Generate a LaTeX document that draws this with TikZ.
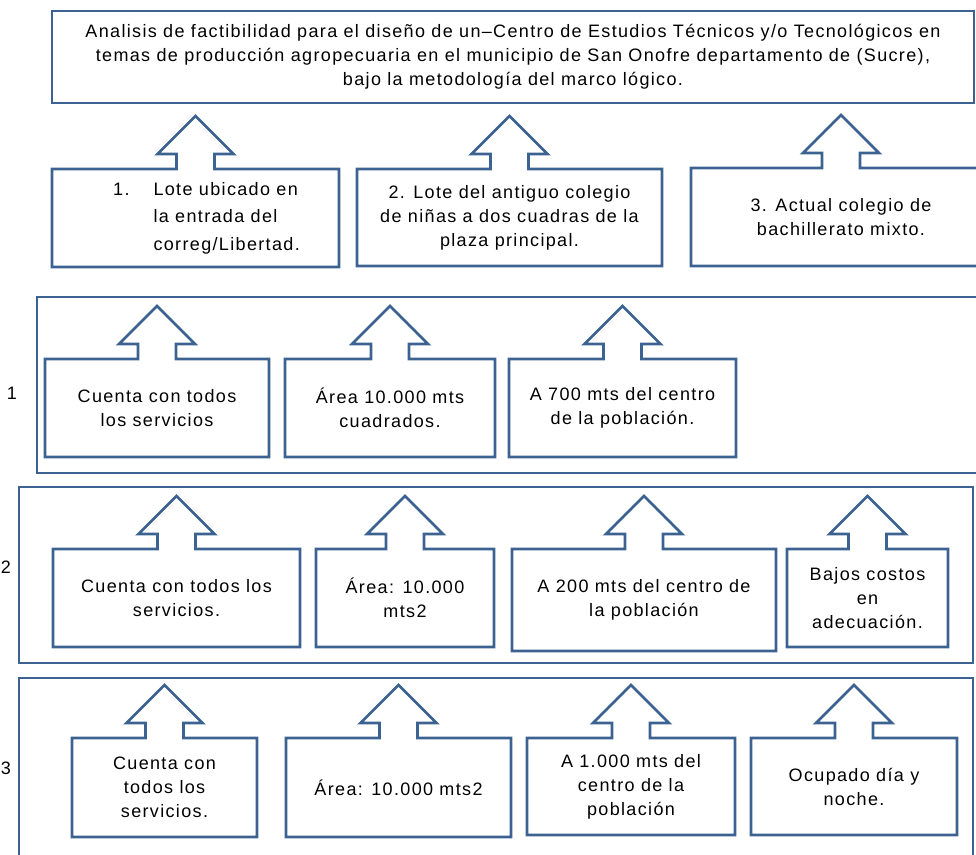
\documentclass[tikz,border=0pt]{standalone}
\usepackage{fontspec}
\setmainfont{Liberation Sans}[LetterSpace=7.5]
\usetikzlibrary{calc}
\definecolor{boxblue}{RGB}{60,98,145}

% box with an up arrow on its top edge
\newcommand{\upcallout}[1]{%
  \draw[arrowbox] (#1.north west) -- ($(#1.north)+(-19,0)$) -- ++(0,-15) -- ++(-19,0)
    -- ($(#1.north)+(0,-53)$) -- ($(#1.north)+(38,-15)$) -- ++(-19,0) -- ++(0,15)
    -- (#1.north east) -- (#1.south east) -- (#1.south west) -- cycle;}

\begin{document}
\begin{tikzpicture}[x=0.75pt, y=-0.75pt,
    box/.style={rectangle, inner sep=2pt, outer sep=0pt, align=center, font=\fontsize{13.5}{18}\selectfont},
    arrowbox/.style={draw=boxblue, line width=2.1pt},
    panel/.style={rectangle, draw=boxblue, line width=2.1pt, inner sep=0pt, outer sep=0pt},
    tag/.style={font=\fontsize{13.5}{18}\selectfont}]
        \useasboundingbox (0,0) rectangle (976,855);
        \clip (0,0) rectangle (976,855);

        \node[box, draw=boxblue, line width=2.1pt, minimum width=922*0.75pt, minimum height=92*0.75pt] (goal) at (513,57) {Analisis de factibilidad para el diseño de un–Centro de Estudios Técnicos y/o Tecnológicos en\\ temas de producción agropecuaria en el municipio de San Onofre departamento de (Sucre),\\ bajo la metodología del marco lógico.};

        \node[box, minimum width=287*0.75pt, minimum height=98*0.75pt] (lot1) at (195.5,218) {\hspace{16.5pt}\begin{tabular}{@{}l@{\hspace{18pt}}l@{}}1. & Lote ubicado en\\[2.5pt] & la entrada del\\[2.5pt] & correg/Libertad.\end{tabular}};
        \node[box, minimum width=305*0.75pt, minimum height=97*0.75pt] (lot2) at (509.5,217.5) {2. Lote del antiguo colegio\\ de niñas a dos cuadras de la\\ plaza principal.};
        \node[box, minimum width=300*0.75pt, minimum height=98*0.75pt] (lot3) at (841,217) {3. Actual colegio de\\ bachillerato mixto.};

        \node[panel, minimum width=963*0.75pt, minimum height=176*0.75pt] (panel1) at (518.5,385) {};
        \node[panel, minimum width=954*0.75pt, minimum height=176*0.75pt] (panel2) at (496,575) {};
        \node[panel, minimum width=954*0.75pt, minimum height=222*0.75pt] (panel3) at (496,789) {};

        \node[tag] (n1) at (12,393) {1};
        \node[tag] (n2) at (6,567) {2};
        \node[tag] (n3) at (6,768) {3};

        \node[box, minimum width=224*0.75pt, minimum height=98*0.75pt] (a1) at (157,408) {Cuenta con todos\\ los servicios};
        \node[box, minimum width=210*0.75pt, minimum height=98*0.75pt] (b1) at (390,408) {Área 10.000 mts\\ cuadrados.};
        \node[box, minimum width=227*0.75pt, minimum height=98*0.75pt] (c1) at (622.5,408) {A 700 mts del centro\\ de la población.};

        \node[box, minimum width=247*0.75pt, minimum height=98*0.75pt] (a2) at (176.5,598) {Cuenta con todos los\\ servicios.};
        \node[box, minimum width=178*0.75pt, minimum height=98*0.75pt] (b2) at (405,598) {Área: 10.000\\ mts2};
        \node[box, minimum width=264*0.75pt, minimum height=102*0.75pt] (c2) at (644,600) {A 200 mts del centro de\\ la población};
        \node[box, minimum width=161*0.75pt, minimum height=98*0.75pt] (d2) at (867.5,598) {Bajos costos\\ en\\ adecuación.};

        \node[box, minimum width=185*0.75pt, minimum height=99*0.75pt] (a3) at (164.5,787.5) {Cuenta con\\ todos los\\ servicios.};
        \node[box, minimum width=225*0.75pt, minimum height=99*0.75pt] (b3) at (398.5,787.5) {Área: 10.000 mts2};
        \node[box, minimum width=208*0.75pt, minimum height=97*0.75pt] (c3) at (631,786.5) {A 1.000 mts del\\ centro de la\\ población};
        \node[box, minimum width=206*0.75pt, minimum height=97*0.75pt] (d3) at (854,786.5) {Ocupado día y\\ noche.};

        \foreach \b in {lot1,lot2,lot3,a1,b1,c1,a2,b2,c2,d2,a3,b3,c3,d3}
            \upcallout{\b};
    \end{tikzpicture}
\end{document}
